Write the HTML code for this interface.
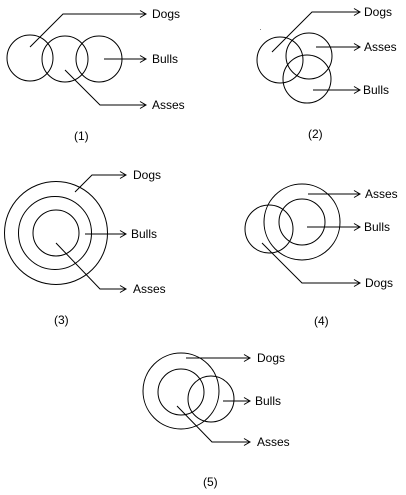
<!DOCTYPE html>
<html><head><meta charset="utf-8"><style>
html,body{margin:0;padding:0;background:#fff}
svg{display:block}
text{font-family:"Liberation Sans",sans-serif;font-size:12px;fill:#000;dominant-baseline:middle}
circle,path{fill:none;stroke:#000;stroke-width:1}
</style></head><body>
<svg width="406" height="495" viewBox="0 0 406 495">
<defs><marker id="ah" markerWidth="8" markerHeight="8" refX="7" refY="4" orient="auto" markerUnits="userSpaceOnUse"><path d="M1,0.5 L7,4 L1,7.5"/></marker></defs>

<g>
<circle cx="30" cy="58" r="23"/>
<circle cx="65" cy="59" r="23"/>
<circle cx="99" cy="59" r="23"/>
<path d="M30,47 L63,14 L146,14" marker-end="url(#ah)"/>
<path d="M104,59 L146,59" marker-end="url(#ah)"/>
<path d="M65,70 L100,105 L146,105" marker-end="url(#ah)"/>
<text x="152" y="15">Dogs</text>
<text x="152" y="60">Bulls</text>
<text x="152" y="106">Asses</text>
<text x="74" y="137">(1)</text>
</g>

<g>
<circle cx="280" cy="60" r="23"/>
<circle cx="309" cy="56" r="23"/>
<circle cx="307" cy="79" r="24"/>
<rect x="260" y="29" width="1" height="1" fill="#888"/>
<path d="M272,52 L312,12 L360,12" marker-end="url(#ah)"/>
<path d="M316,47 L360,47" marker-end="url(#ah)"/>
<path d="M313,90 L360,90" marker-end="url(#ah)"/>
<text x="364" y="13">Dogs</text>
<text x="364" y="48">Asses</text>
<text x="363" y="91">Bulls</text>
<text x="308" y="135">(2)</text>
</g>

<g>
<circle cx="56" cy="233" r="51.5"/>
<circle cx="55" cy="233" r="36.5"/>
<circle cx="56" cy="233" r="23"/>
<path d="M75,192 L92,175 L126,175" marker-end="url(#ah)"/>
<path d="M85,234 L126,234" marker-end="url(#ah)"/>
<path d="M56,243 L100,289 L126,289" marker-end="url(#ah)"/>
<text x="133" y="176">Dogs</text>
<text x="131" y="235">Bulls</text>
<text x="133" y="290">Asses</text>
<text x="54" y="321">(3)</text>
</g>

<g>
<circle cx="302" cy="222" r="38"/>
<circle cx="302" cy="222" r="23"/>
<circle cx="269" cy="229" r="24"/>
<path d="M308,194 L360,194" marker-end="url(#ah)"/>
<path d="M307,227 L360,227" marker-end="url(#ah)"/>
<path d="M262,243 L302,283 L360,283" marker-end="url(#ah)"/>
<text x="365" y="195">Asses</text>
<text x="364" y="228">Bulls</text>
<text x="365" y="284">Dogs</text>
<text x="314" y="322">(4)</text>
</g>

<g>
<circle cx="181" cy="391" r="38"/>
<circle cx="181" cy="392" r="23"/>
<circle cx="211" cy="399" r="23"/>
<path d="M186,358 L250,358" marker-end="url(#ah)"/>
<path d="M223,401 L250,401" marker-end="url(#ah)"/>
<path d="M177,406 L212,442 L250,442" marker-end="url(#ah)"/>
<text x="257" y="359">Dogs</text>
<text x="255" y="402">Bulls</text>
<text x="257" y="443">Asses</text>
<text x="203" y="483">(5)</text>
</g>
</svg>
</body></html>
